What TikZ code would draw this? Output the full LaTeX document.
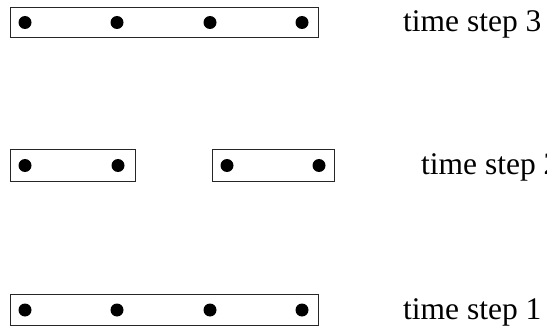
\documentclass[tikz,border=0pt]{standalone}
\usepackage{fontspec}
\setmainfont{Liberation Serif}
\begin{document}
\begin{tikzpicture}[x=1pt,y=-1pt,
  framebox/.style={draw=black!85, line width=1pt, rectangle, inner sep=0pt},
  dotmark/.style={circle, fill=black, inner sep=0pt, minimum size=13pt},
  steplabel/.style={anchor=base west, inner sep=0pt, font=\fontsize{31.5}{36}\selectfont}]
  \path[use as bounding box] (0,0) rectangle (547,329);
  \clip (0,0) rectangle (547,329);

  % time step 3: one block of four points
  \node[framebox, minimum width=308pt, minimum height=30pt] (b3) at (164,23) {};
  \foreach \i/\x in {1/25, 2/117, 3/210, 4/302}
    \node[dotmark] (p3\i) at (\x,22.5) {};
  \node[steplabel] (l3) at (403,32) {time step 3};

  % time step 2: two blocks of two points
  \node[framebox, minimum width=125pt, minimum height=31pt] (b2a) at (72.5,165.5) {};
  \node[framebox, minimum width=122pt, minimum height=31pt] (b2b) at (273,165.5) {};
  \foreach \i/\x in {1/25, 2/118, 3/227, 4/319}
    \node[dotmark] (p2\i) at (\x,165.5) {};
  \node[steplabel] (l2) at (421,175) {time step 2};

  % time step 1: one block of four points
  \node[framebox, minimum width=308pt, minimum height=31pt] (b1) at (164,310) {};
  \foreach \i/\x in {1/25, 2/117, 3/210, 4/302}
    \node[dotmark] (p1\i) at (\x,310) {};
  \node[steplabel] (l1) at (403,319) {time step 1};
\end{tikzpicture}
\end{document}
